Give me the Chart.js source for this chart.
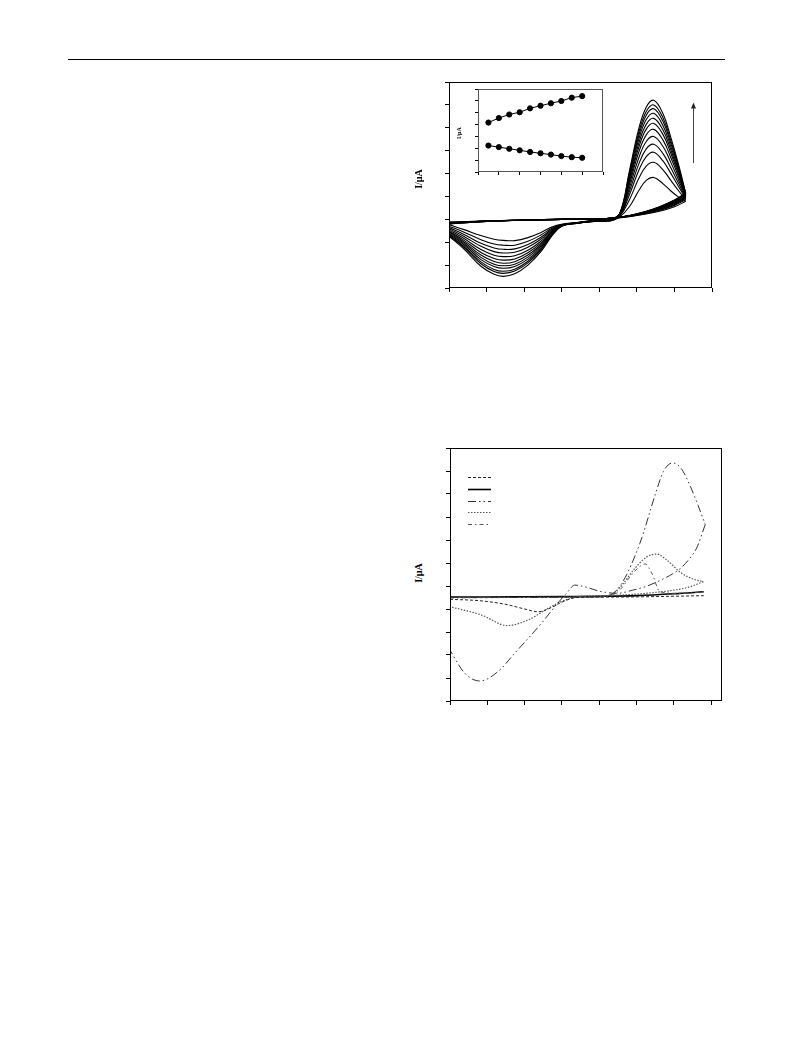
<!DOCTYPE html>
<html>
<head>
<meta charset="utf-8">
<script src="https://cdn.jsdelivr.net/npm/chart.js@4.4.1/dist/chart.umd.min.js"></script>
<style>
body { margin: 0; background: #fff; width: 793px; height: 1053px; position: relative; overflow: hidden; font-family: "Liberation Serif", serif; }
canvas { position: absolute; }
.rule { position: absolute; left: 68px; top: 59px; width: 657px; height: 0; border-top: 1.5px solid #000; }
.ylab { position: absolute; font-weight: bold; white-space: nowrap; transform: translate(-50%, -50%) rotate(-90deg); }
</style>
</head>
<body>
<div class="rule"></div>

<canvas id="cvChart" width="275" height="218" style="left:439px;top:80px"></canvas>
<canvas id="insetChart" width="136" height="94" style="left:472px;top:84px"></canvas>
<canvas id="compareChart" width="284" height="265" style="left:440px;top:446px"></canvas>

<div class="ylab" style="left:418px;top:179px;font-size:10px">I/µA</div>
<div class="ylab" style="left:459px;top:133px;font-size:6px">I/µA</div>
<div class="ylab" style="left:418px;top:573px;font-size:10px">I/µA</div>

<script>
// ---- top chart: 12 voltammograms (forward sweep, then return sweep)
var cvForwardPotential = [0, 0.4, 0.85, 1.2, 1.45, 1.75, 2.1, 2.45, 2.75, 3.0, 3.4, 3.8, 4.3, 4.55, 4.8, 5.05, 5.25, 5.45, 5.7, 5.9, 6.1, 6.3];
var cvForward = [
    [-0.23, -0.45, -0.71, -0.87, -0.92, -0.93, -0.80, -0.57, -0.33, -0.22, -0.14, -0.06, -0.07, 0.12, 0.55, 1.25, 1.70, 1.83, 1.55, 1.25, 0.98, 0.79],
    [-0.30, -0.56, -0.89, -1.08, -1.13, -1.13, -0.96, -0.68, -0.38, -0.23, -0.15, -0.06, -0.06, 0.15, 0.85, 1.78, 2.33, 2.49, 2.15, 1.71, 1.27, 0.86],
    [-0.36, -0.66, -1.05, -1.25, -1.31, -1.29, -1.10, -0.78, -0.42, -0.24, -0.15, -0.07, -0.05, 0.17, 1.06, 2.13, 2.74, 2.93, 2.54, 2.02, 1.46, 0.91],
    [-0.41, -0.75, -1.18, -1.41, -1.47, -1.44, -1.22, -0.86, -0.46, -0.25, -0.15, -0.07, -0.04, 0.19, 1.22, 2.41, 3.08, 3.28, 2.86, 2.26, 1.61, 0.94],
    [-0.46, -0.84, -1.32, -1.57, -1.63, -1.59, -1.35, -0.95, -0.50, -0.26, -0.16, -0.08, -0.03, 0.20, 1.37, 2.68, 3.40, 3.62, 3.17, 2.50, 1.76, 0.98],
    [-0.51, -0.92, -1.45, -1.71, -1.78, -1.73, -1.46, -1.03, -0.53, -0.26, -0.16, -0.08, -0.03, 0.22, 1.52, 2.93, 3.69, 3.93, 3.45, 2.71, 1.90, 1.01],
    [-0.55, -0.99, -1.56, -1.84, -1.92, -1.85, -1.56, -1.10, -0.56, -0.27, -0.16, -0.08, -0.02, 0.23, 1.64, 3.14, 3.94, 4.19, 3.69, 2.90, 2.01, 1.04],
    [-0.59, -1.05, -1.66, -1.96, -2.03, -1.96, -1.65, -1.16, -0.59, -0.28, -0.17, -0.09, -0.02, 0.24, 1.74, 3.32, 4.15, 4.41, 3.89, 3.05, 2.11, 1.07],
    [-0.63, -1.11, -1.76, -2.06, -2.14, -2.06, -1.74, -1.22, -0.62, -0.28, -0.17, -0.09, -0.01, 0.25, 1.84, 3.49, 4.36, 4.63, 4.08, 3.20, 2.20, 1.09],
    [-0.67, -1.18, -1.86, -2.19, -2.27, -2.18, -1.83, -1.28, -0.65, -0.29, -0.17, -0.09, -0.01, 0.26, 1.93, 3.65, 4.55, 4.83, 4.26, 3.34, 2.29, 1.11],
    [-0.70, -1.23, -1.94, -2.28, -2.36, -2.26, -1.90, -1.33, -0.67, -0.29, -0.18, -0.10, 0.00, 0.27, 2.01, 3.79, 4.71, 5.00, 4.42, 3.46, 2.36, 1.13],
    [-0.74, -1.30, -2.05, -2.40, -2.49, -2.38, -2.00, -1.40, -0.70, -0.30, -0.18, -0.10, 0.00, 0.28, 2.10, 3.95, 4.90, 5.20, 4.60, 3.60, 2.45, 1.15]
];
var cvReturnPotential = [6.3, 6.0, 5.6, 5.2, 4.8, 4.4, 4.0, 3.0, 2.0, 1.0, 0];
var cvReturn = [
    [0.79, 0.55, 0.35, 0.22, 0.12, 0.05, 0.02, 0.00, -0.03, -0.07, -0.12],
    [0.86, 0.61, 0.39, 0.24, 0.13, 0.05, 0.02, 0.00, -0.03, -0.07, -0.13],
    [0.91, 0.65, 0.42, 0.26, 0.14, 0.05, 0.02, 0.00, -0.03, -0.07, -0.15],
    [0.94, 0.68, 0.44, 0.27, 0.14, 0.06, 0.02, 0.00, -0.03, -0.07, -0.15],
    [0.98, 0.71, 0.46, 0.28, 0.15, 0.06, 0.02, 0.00, -0.03, -0.08, -0.16],
    [1.01, 0.74, 0.47, 0.29, 0.15, 0.06, 0.02, 0.00, -0.03, -0.08, -0.17],
    [1.04, 0.76, 0.49, 0.30, 0.16, 0.06, 0.02, 0.00, -0.04, -0.08, -0.18],
    [1.07, 0.78, 0.50, 0.30, 0.16, 0.06, 0.02, 0.00, -0.04, -0.08, -0.18],
    [1.09, 0.80, 0.52, 0.31, 0.16, 0.07, 0.02, 0.00, -0.04, -0.09, -0.19],
    [1.11, 0.82, 0.53, 0.32, 0.16, 0.07, 0.02, 0.00, -0.04, -0.09, -0.19],
    [1.13, 0.83, 0.54, 0.32, 0.17, 0.07, 0.02, 0.00, -0.04, -0.09, -0.20],
    [1.15, 0.85, 0.55, 0.33, 0.17, 0.07, 0.02, 0.00, -0.04, -0.09, -0.20]
];

// ---- inset: peak currents
var insetX = [0.5, 1.0, 1.5, 2.0, 2.5, 3.0, 3.5, 4.0, 4.5, 5.0];
var insetUpper = [4.17, 4.55, 4.85, 5.04, 5.37, 5.59, 5.80, 5.99, 6.27, 6.40];
var insetLower = [2.23, 2.10, 1.96, 1.83, 1.69, 1.58, 1.47, 1.34, 1.25, 1.20];

// ---- bottom chart: five voltammograms
var solidX = [0, 1, 2, 3, 4, 5, 6, 6.8];
var solidY = [4.52, 4.52, 4.53, 4.54, 4.55, 4.58, 4.66, 4.75];

var dashedX = [0, 0.8, 1.5, 2.0, 2.36, 2.7, 3.0, 3.4, 4.5, 5.5, 6.8];
var dashedY = [4.42, 4.36, 4.20, 4.00, 3.88, 4.05, 4.30, 4.50, 4.52, 4.54, 4.58];

var bigFwdX = [0, 2, 4.0, 4.3, 4.6, 5.09, 5.5, 5.72, 5.97, 6.2, 6.45, 6.65, 6.84];
var bigFwdY = [4.50, 4.50, 4.55, 4.62, 5.10, 6.86, 8.97, 9.98, 10.35, 10.10, 9.30, 8.50, 7.67];
var bigRetX = [6.84, 6.61, 6.4, 6.2, 5.99, 5.6, 5.27, 4.9, 4.47, 4.02, 3.6, 3.34, 3.16, 2.88, 2.45, 2.0, 1.73, 1.3, 0.8, 0.4, 0];
var bigRetY = [7.67, 6.65, 6.15, 5.80, 5.55, 5.22, 4.99, 4.82, 4.68, 4.77, 4.97, 5.04, 4.75, 4.24, 3.38, 2.55, 2.07, 1.30, 0.87, 1.20, 2.20];

var dotFwdX = [0, 1, 2, 3, 4.0, 4.38, 4.65, 4.92, 5.27, 5.54, 5.81, 6.17, 6.52, 6.79];
var dotFwdY = [4.50, 4.50, 4.51, 4.52, 4.55, 4.68, 5.12, 5.70, 6.26, 6.39, 6.13, 5.60, 5.30, 5.19];
var dotRetX = [6.79, 6.4, 6.0, 5.5, 5.0, 4.5, 4.0, 3.5, 2.98, 2.63, 2.09, 1.53, 0.84, 0];
var dotRetY = [5.19, 4.95, 4.82, 4.72, 4.65, 4.60, 4.58, 4.55, 4.32, 4.03, 3.52, 3.28, 3.74, 4.10];

var dashDotX = [0, 2, 4.0, 4.3, 4.56, 4.83, 5.05, 5.23, 5.41, 5.63, 6.17, 6.79];
var dashDotY = [4.48, 4.50, 4.52, 4.56, 4.84, 5.41, 5.80, 5.96, 5.55, 4.75, 4.68, 4.75];

function pts(xs, ys) {
    return xs.map(function (x, i) { return { x: x, y: ys[i] }; });
}

function axis(min, max, tickLen, size) {
    return {
        type: 'linear', min: min, max: max,
        ticks: { display: false, stepSize: 1, includeBounds: false },
        grid: { drawOnChartArea: false, drawTicks: true, tickLength: tickLen, color: '#000', lineWidth: 1 },
        border: { display: false },
        afterFit: function (s) {
            if (s.isHorizontal()) s.height = size; else s.width = size;
        }
    };
}

var boxPlugin = {
    id: 'box',
    beforeDraw: function (chart, args, opts) {
        if (!opts.fill) return;
        var a = chart.chartArea, ctx = chart.ctx;
        ctx.save();
        ctx.fillStyle = opts.fill;
        ctx.fillRect(a.left, a.top, a.right - a.left, a.bottom - a.top);
        ctx.restore();
    },
    afterDraw: function (chart, args, opts) {
        var a = chart.chartArea, ctx = chart.ctx;
        ctx.save();
        ctx.strokeStyle = opts.color || '#000';
        ctx.lineWidth = 1;
        ctx.setLineDash([]);
        ctx.strokeRect(a.left + 0.5, a.top + 0.5, a.right - a.left - 1, a.bottom - a.top - 1);
        ctx.restore();
    }
};

var arrowPlugin = {
    id: 'arrow',
    afterDatasetsDraw: function (chart, args, opts) {
        if (!opts.x) return;
        var ctx = chart.ctx, xs = chart.scales.x, ys = chart.scales.y;
        var px = Math.round(xs.getPixelForValue(opts.x)) + 0.5;
        var y0 = ys.getPixelForValue(opts.from), y1 = ys.getPixelForValue(opts.to);
        ctx.save();
        ctx.strokeStyle = '#444'; ctx.fillStyle = '#222'; ctx.lineWidth = 1;
        ctx.beginPath(); ctx.moveTo(px, y0); ctx.lineTo(px, y1 + 4); ctx.stroke();
        ctx.beginPath(); ctx.moveTo(px, y1); ctx.lineTo(px - 2.5, y1 + 6); ctx.lineTo(px + 2.5, y1 + 6); ctx.closePath(); ctx.fill();
        ctx.restore();
    }
};

var legendPlugin = {
    id: 'lineLegend',
    afterDraw: function (chart, args, opts) {
        if (!opts.rows) return;
        var ctx = chart.ctx, a = chart.chartArea;
        opts.rows.forEach(function (idx, i) {
            var ds = chart.data.datasets[idx];
            var y = Math.round(a.top + opts.top + i * opts.gap) + 0.5;
            ctx.save();
            ctx.strokeStyle = ds.borderColor;
            ctx.lineWidth = ds.borderWidth;
            ctx.setLineDash(ds.borderDash || []);
            ctx.beginPath();
            ctx.moveTo(a.left + opts.left, y);
            ctx.lineTo(a.left + opts.left + opts.width, y);
            ctx.stroke();
            ctx.restore();
        });
    }
};

Chart.register(boxPlugin, arrowPlugin, legendPlugin);

// ---- top chart
var cvSets = [];
cvForward.forEach(function (ys, i) {
    cvSets.push({ data: pts(cvForwardPotential, ys), borderColor: '#000', borderWidth: 1.1 });
    cvSets.push({ data: pts(cvReturnPotential, cvReturn[i]), borderColor: '#000', borderWidth: 1.1 });
});

new Chart(document.getElementById('cvChart'), {
    type: 'scatter',
    data: { datasets: cvSets },
    options: {
        responsive: false, animation: false, devicePixelRatio: 1,
        layout: { padding: { left: 0, top: 2, right: 2, bottom: 0 } },
        elements: { point: { radius: 0 }, line: { tension: 0.4 } },
        datasets: { scatter: { showLine: true } },
        scales: { x: axis(0, 7, 4, 10), y: axis(-3, 6, 4, 10) },
        plugins: {
            legend: { display: false }, tooltip: { enabled: false },
            box: { color: '#000' },
            arrow: { x: 6.49, from: 2.46, to: 5.1 }
        }
    }
});

// ---- inset
new Chart(document.getElementById('insetChart'), {
    type: 'scatter',
    data: {
        datasets: [
            { data: pts(insetX, insetUpper), borderColor: '#000', backgroundColor: '#000', borderWidth: 1, pointRadius: 2.6 },
            { data: pts(insetX, insetLower), borderColor: '#000', backgroundColor: '#000', borderWidth: 1, pointRadius: 2.6 }
        ]
    },
    options: {
        responsive: false, animation: false, devicePixelRatio: 1,
        layout: { padding: { left: 0, top: 2, right: 2, bottom: 0 } },
        datasets: { scatter: { showLine: true } },
        scales: { x: axis(0, 6, 3, 6), y: axis(0, 7, 3, 6) },
        plugins: {
            legend: { display: false }, tooltip: { enabled: false },
            box: { color: '#555', fill: '#fff' }
        }
    }
});

// ---- bottom chart
var gray = '#555';
new Chart(document.getElementById('compareChart'), {
    type: 'scatter',
    data: {
        datasets: [
            { data: pts(dashedX, dashedY), borderColor: '#222', borderWidth: 1, borderDash: [3, 2] },
            { data: pts(bigFwdX, bigFwdY), borderColor: '#333', borderWidth: 1, borderDash: [8, 3, 1.5, 3, 1.5, 3] },
            { data: pts(bigRetX, bigRetY), borderColor: '#333', borderWidth: 1, borderDash: [8, 3, 1.5, 3, 1.5, 3] },
            { data: pts(dotFwdX, dotFwdY), borderColor: gray, borderWidth: 1.2, borderDash: [1.5, 1.5] },
            { data: pts(dotRetX, dotRetY), borderColor: gray, borderWidth: 1.2, borderDash: [1.5, 1.5] },
            { data: pts(dashDotX, dashDotY), borderColor: gray, borderWidth: 1, borderDash: [4, 3, 1.5, 3] },
            { data: pts(solidX, solidY), borderColor: '#000', borderWidth: 1.6 }
        ]
    },
    options: {
        responsive: false, animation: false, devicePixelRatio: 1,
        layout: { padding: { left: 0, top: 2, right: 2, bottom: 0 } },
        elements: { point: { radius: 0 }, line: { cubicInterpolationMode: 'monotone' } },
        datasets: { scatter: { showLine: true } },
        scales: { x: axis(0, 7.29, 4, 10), y: axis(0, 11, 4, 10) },
        plugins: {
            legend: { display: false }, tooltip: { enabled: false },
            box: { color: '#000' },
            lineLegend: { rows: [0, 6, 1, 3, 5], left: 18, width: 23, top: 29, gap: 11.8 }
        }
    }
});
</script>
</body>
</html>
